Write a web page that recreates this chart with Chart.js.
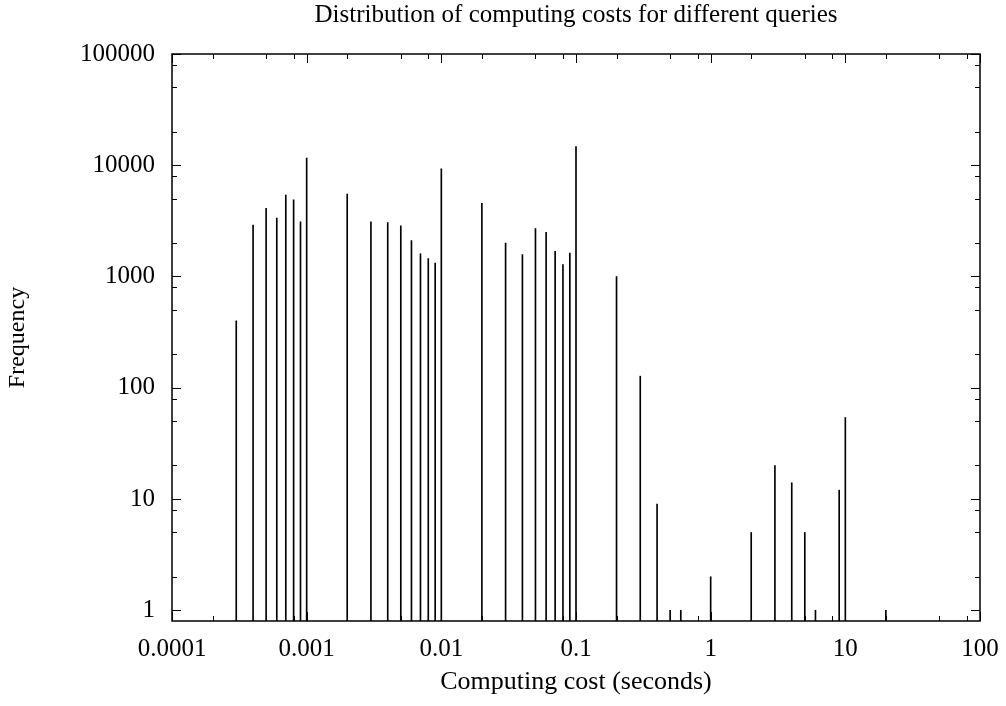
<!DOCTYPE html>
<html>
<head>
<meta charset="utf-8">
<script src="https://cdn.jsdelivr.net/npm/chart.js@4/dist/chart.umd.min.js"></script>
<style>
  html, body { margin: 0; padding: 0; background: #fff; }
  #wrap { width: 1006px; height: 706px; }
</style>
</head>
<body>
<div id="wrap"><canvas id="costChart" width="1006" height="706"></canvas></div>
<script>
// query cost (seconds) and how many queries fell in that bucket
let costs = [0.0003, 0.0004, 0.0005, 0.0006, 0.0007, 0.0008, 0.0009, 0.001,
             0.002, 0.003, 0.004, 0.005, 0.006, 0.007, 0.008, 0.009, 0.01,
             0.02, 0.03, 0.04, 0.05, 0.06, 0.07, 0.08, 0.09, 0.1,
             0.2, 0.3, 0.4, 0.5, 0.6, 1,
             2, 3, 4, 5, 6, 9, 10, 20];
let freq = [400, 2900, 4100, 3350, 5400, 4900, 3100, 11600,
            5500, 3100, 3050, 2850, 2100, 1600, 1450, 1320, 9300,
            4550, 2000, 1570, 2700, 2500, 1680, 1280, 1620, 14700,
            1000, 127, 9, 1, 1, 2,
            5, 20, 14, 5, 1, 12, 54, 1];

let xTickLabels = ['0.0001', '0.001', '0.01', '0.1', '1', '10', '100'];
let yTickLabels = ['1', '10', '100', '1000', '10000', '100000'];
let minorSteps = [2, 5, 8];

let yMin = 0.8;
let serif = "'Liberation Serif', 'Times New Roman', serif";

function logTicks(labels) {
    let out = [];
    labels.forEach((l, i) => {
        let v = parseFloat(l);
        out.push({ value: v, big: true, text: l });
        if (i < labels.length - 1) {
            minorSteps.forEach(m => out.push({ value: +(v * m).toPrecision(6), big: false, text: '' }));
        }
    });
    return out;
}

// gnuplot style frame with inward ticks on all four sides
let frameTicks = {
    id: 'frameTicks',
    afterDatasetsDraw(chart) {
        let { ctx, chartArea: a, scales } = chart;
        ctx.save();
        ctx.strokeStyle = '#000';
        ctx.lineWidth = 1;
        ctx.beginPath();
        scales.x.ticks.forEach(t => {
            let px = Math.round(scales.x.getPixelForValue(t.value)) + 0.5;
            let len = t.big ? 9 : 5;
            ctx.moveTo(px, a.bottom); ctx.lineTo(px, a.bottom - len);
            ctx.moveTo(px, a.top); ctx.lineTo(px, a.top + len);
        });
        scales.y.ticks.forEach(t => {
            let py = Math.round(scales.y.getPixelForValue(t.value)) + 0.5;
            let len = t.big ? 9 : 5;
            ctx.moveTo(a.left, py); ctx.lineTo(a.left + len, py);
            ctx.moveTo(a.right, py); ctx.lineTo(a.right - len, py);
        });
        ctx.stroke();
        ctx.lineWidth = 1.5;
        ctx.strokeRect(a.left, a.top, a.right - a.left, a.bottom - a.top);
        ctx.restore();
    }
};

let ctx = document.getElementById('costChart').getContext('2d');

let costChart = new Chart(ctx, {
    type: 'bar',
    data: {
        datasets: [{
            data: costs.map((c, i) => ({ x: c, y: freq[i] })),
            backgroundColor: '#000',
            borderWidth: 0,
            barThickness: 1,
            base: yMin
        }]
    },
    options: {
        responsive: false,
        animation: false,
        layout: { padding: { left: 0, right: 26, top: 0, bottom: 0 } },
        plugins: {
            legend: { display: false },
            tooltip: { enabled: false },
            title: {
                display: true,
                fullSize: false,
                text: 'Distribution of computing costs for different queries',
                color: '#000',
                font: { family: serif, size: 25, weight: 'normal' },
                padding: { top: 0, bottom: 24 }
            }
        },
        scales: {
            x: {
                type: 'logarithmic',
                min: 0.0001,
                max: 100,
                grid: { display: false, drawTicks: false },
                border: { display: false },
                afterBuildTicks: s => { s.ticks = logTicks(xTickLabels); },
                afterFit: s => {
                    s.height = 85;
                    s.paddingLeft = 0;
                    s.paddingRight = 0;
                },
                ticks: {
                    autoSkip: false,
                    maxRotation: 0,
                    minRotation: 0,
                    padding: 13,
                    color: '#000',
                    font: { family: serif, size: 25 },
                    callback: (v, i, t) => t[i].big ? t[i].text : ''
                },
                title: {
                    display: true,
                    text: 'Computing cost (seconds)',
                    color: '#000',
                    font: { family: serif, size: 26 },
                    padding: { top: 0, bottom: 8 }
                }
            },
            y: {
                type: 'logarithmic',
                min: yMin,
                max: 100000,
                grid: { display: false, drawTicks: false },
                border: { display: false },
                afterBuildTicks: s => { s.ticks = logTicks(yTickLabels); },
                afterFit: s => { s.width = 172; },
                ticks: {
                    autoSkip: false,
                    padding: 17,
                    color: '#000',
                    font: { family: serif, size: 25 },
                    callback: (v, i, t) => t[i].big ? t[i].text : ''
                },
                title: {
                    display: true,
                    text: 'Frequency',
                    color: '#000',
                    font: { family: serif, size: 24 },
                    padding: { top: 3, bottom: 0 }
                }
            }
        }
    },
    plugins: [frameTicks]
});
</script>
</body>
</html>
